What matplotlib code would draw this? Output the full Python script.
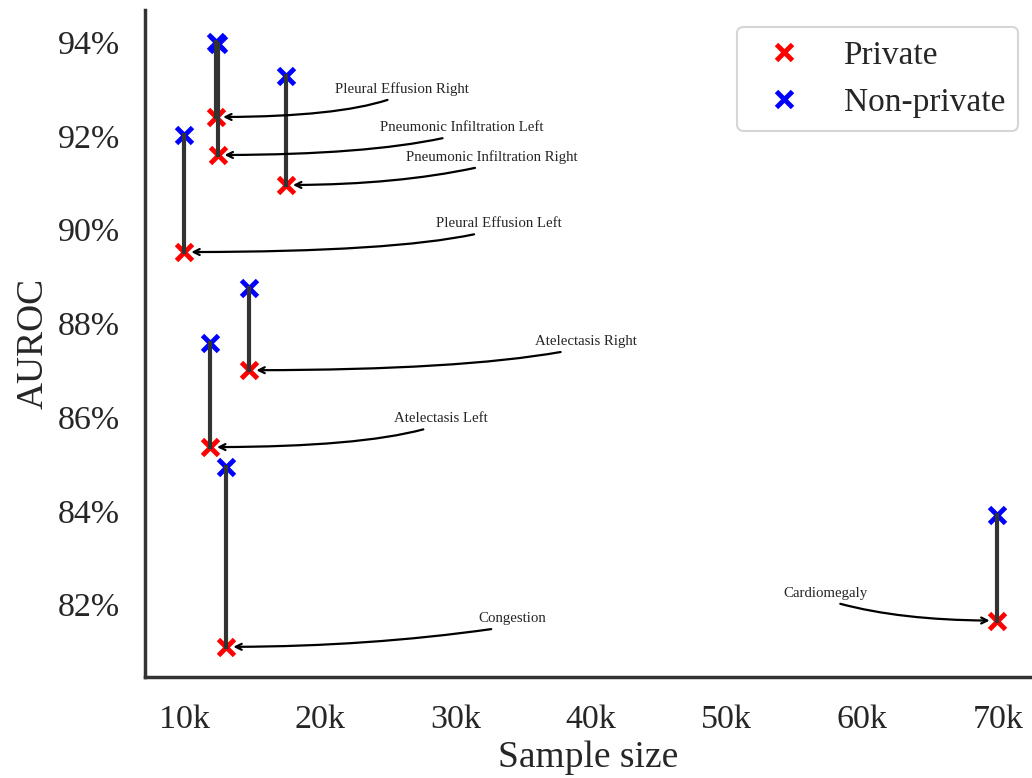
import numpy as np
import matplotlib
matplotlib.use("Agg")
import matplotlib.pyplot as plt
from matplotlib.ticker import FuncFormatter

# values (sample size in thousands, AUROC in %)
labels = ["Pleural Effusion Right", "Pneumonic Infiltration Left",
          "Pneumonic Infiltration Right", "Pleural Effusion Left",
          "Atelectasis Right", "Atelectasis Left", "Congestion", "Cardiomegaly"]
sample_k = [12.35, 12.45, 17.5, 10.0, 14.8, 11.9, 13.1, 69.9]
auroc_private = [92.40, 91.59, 90.95, 89.52, 87.00, 85.36, 81.10, 81.66]
auroc_nonprivate = [94.00, 93.95, 93.27, 92.01, 88.75, 87.58, 84.94, 83.92]

# annotation text centres, where the arrow leaves the text, and its bend
text_x = [26.07, 30.49, 32.70, 33.22, 39.63, 28.94, 34.18, 57.32]
text_y = [93.00, 92.17, 91.55, 90.12, 87.61, 85.96, 81.70, 82.24]
arrow_relx = [0.39, 0.38, 0.40, 0.30, 0.25, 0.31, 0.19, 0.67]
arrow_angle = [18, 12, 12, 12, 10, 15, 8, -15]

plt.rcParams['font.family'] = ['Liberation Serif', 'DejaVu Serif']
text_col = '#262626'

fig = plt.figure(figsize=(10.32, 7.78), dpi=100)
ax = fig.add_axes([0.1405, 0.130, 0.858, 0.857])

for i in range(len(labels)):
    ax.plot([sample_k[i], sample_k[i]], [auroc_private[i], auroc_nonprivate[i]],
            color='#333333', lw=3, zorder=3)

ax.plot(sample_k, auroc_private, 'x', color='red', ms=12, mew=3.5,
        label='Private', zorder=2)
ax.plot(sample_k, auroc_nonprivate, 'x', color='blue', ms=12, mew=3.5,
        label='Non-private', zorder=2)

for i, lab in enumerate(labels):
    ax.annotate(lab, xy=(sample_k[i], auroc_private[i]),
                xytext=(text_x[i], text_y[i]), ha='center', va='center',
                fontsize=10.7, color=text_col,
                arrowprops=dict(arrowstyle='->', color='black', lw=1.6,
                                relpos=(arrow_relx[i], -0.3), patchA=None,
                                connectionstyle='angle3,angleA=%s,angleB=0' % arrow_angle[i],
                                shrinkA=0, shrinkB=5))

ax.set_xlim(7.1, 72.4)
ax.set_ylim(80.46, 94.68)
ax.set_xticks([10, 20, 30, 40, 50, 60, 70])
ax.set_yticks([82, 84, 86, 88, 90, 92, 94])
ax.xaxis.set_major_formatter(FuncFormatter(lambda v, p: '%dk' % v))
ax.yaxis.set_major_formatter(FuncFormatter(lambda v, p: '%d%%' % v))
ax.tick_params(length=0, labelsize=24.5, colors=text_col)
ax.tick_params(axis='x', pad=20)
ax.tick_params(axis='y', pad=18)

ax.set_xlabel('Sample size', fontsize=27, color=text_col, labelpad=4)
ax.set_ylabel('AUROC', fontsize=27, color=text_col, labelpad=5)

for s in ['top', 'right']:
    ax.spines[s].set_visible(False)
for s in ['left', 'bottom']:
    ax.spines[s].set_color('#333333')
    ax.spines[s].set_linewidth(2.5)

leg = ax.legend(loc='upper right', fontsize=24, frameon=True, fancybox=True,
                bbox_to_anchor=(1.005, 1.0))
leg.get_frame().set_edgecolor('#cccccc')
leg.get_frame().set_linewidth(1.5)
for t in leg.get_texts():
    t.set_color(text_col)

fig.savefig('out.png', dpi=100)
